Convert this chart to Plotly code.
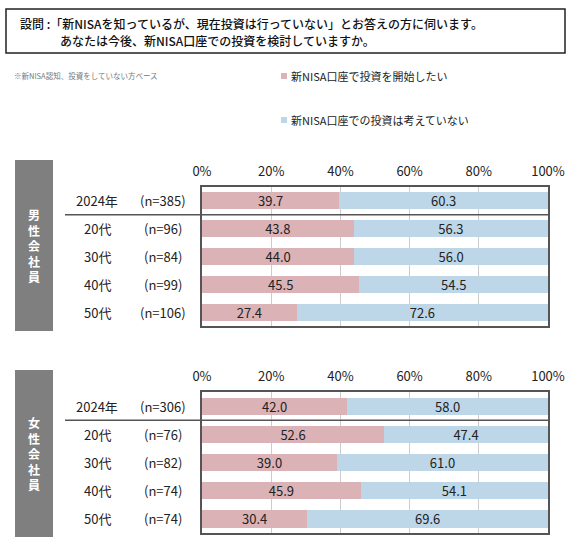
import plotly.graph_objects as go

W, H = 574, 542

groups = ["2024年", "20代", "30代", "40代", "50代"]
male_n = ["(n=385)", "(n=96)", "(n=84)", "(n=99)", "(n=106)"]
male_start = [39.7, 43.8, 44.0, 45.5, 27.4]
male_no = [60.3, 56.3, 56.0, 54.5, 72.6]
female_n = ["(n=306)", "(n=76)", "(n=82)", "(n=74)", "(n=74)"]
female_start = [42.0, 52.6, 39.0, 45.9, 30.4]
female_no = [58.0, 47.4, 61.0, 54.1, 69.6]

series_names = ["新NISA口座で投資を開始したい", "新NISA口座での投資は考えていない"]
section_names = ["男性会社員", "女性会社員"]
tick_values = [0, 20, 40, 60, 80, 100]
tick_labels = ["0%", "20%", "40%", "60%", "80%", "100%"]

PINK = "#dbb3b6"
BLUE = "#bdd7e9"
FRAME = "#555555"
FONT = "Noto Sans CJK JP"


def px(x):
    return x / W


def py(y):
    return 1 - y / H


fig = go.Figure()

sections = [
    (male_n, male_start, male_no, "x", "y"),
    (female_n, female_start, female_no, "x2", "y2"),
]
for n_labels, start, no, xa, ya in sections:
    for vals, name, color in [(start, series_names[0], PINK), (no, series_names[1], BLUE)]:
        fig.add_trace(go.Bar(
            y=groups, x=vals, name=name, orientation="h",
            marker=dict(color=color, line_width=0),
            texttemplate="%{x:.1f}", textposition="inside",
            insidetextanchor="middle", constraintext="none",
            textfont=dict(size=13, color="#222222", family=FONT),
            xaxis=xa, yaxis=ya, showlegend=False,
        ))

# plot areas in pixels: (top, bottom)
areas = [(187, 326), (392, 533)]
boxes = [(160, 331), (370, 537)]

axis_common = dict(
    range=[0, 100], side="top", tickmode="array",
    tickvals=tick_values, ticktext=tick_labels,
    showgrid=True, gridcolor="#cccccc", gridwidth=1,
    showline=True, mirror=True, linecolor=FRAME, linewidth=1.5,
    zeroline=False, ticks="", ticklabelstandoff=4, automargin=False,
    tickfont=dict(size=13, color="#222222", family=FONT),
)
yaxis_common = dict(
    autorange="reversed", showticklabels=False, showgrid=False,
    showline=True, mirror=True, linecolor=FRAME, linewidth=1.5,
    zeroline=False, ticks="", automargin=False,
)

layout = dict(
    width=W, height=H, autosize=False,
    margin=dict(l=0, r=0, t=0, b=0),
    paper_bgcolor="white", plot_bgcolor="white",
    barmode="stack", bargap=0.39,
    font=dict(family=FONT, color="#222222"),
    uniformtext=dict(minsize=13, mode="show"),
    showlegend=False,
)
for i, (top, bottom) in enumerate(areas):
    sfx = "" if i == 0 else str(i + 1)
    layout["xaxis" + sfx] = dict(axis_common, domain=[px(202), px(548)],
                                 anchor="y" + sfx)
    layout["yaxis" + sfx] = dict(yaxis_common, domain=[py(bottom), py(top)],
                                 anchor="x" + sfx)
fig.update_layout(**layout)

shapes = []
annotations = []

# question box
shapes.append(dict(type="rect", xref="paper", yref="paper",
                   x0=px(6), x1=px(565), y0=py(53), y1=py(9),
                   line=dict(color="#222222", width=1.5)))
annotations.append(dict(xref="paper", yref="paper", x=px(18), y=py(24),
                        xanchor="left", yanchor="middle", showarrow=False,
                        text="設問 :「新NISAを知っているが、現在投資は行っていない」とお答えの方に伺います。",
                        font=dict(size=12, color="#111111", weight=500)))
annotations.append(dict(xref="paper", yref="paper", x=px(58), y=py(40),
                        xanchor="left", yanchor="middle", showarrow=False,
                        text="あなたは今後、新NISA口座での投資を検討していますか。",
                        font=dict(size=12, color="#111111", weight=500)))

# note
annotations.append(dict(xref="paper", yref="paper", x=px(12), y=py(75),
                        xanchor="left", yanchor="middle", showarrow=False,
                        text="※新NISA認知、投資をしていない方ベース",
                        font=dict(size=7.5, color="#777777")))

# legend
for name, color, ly in [(series_names[0], PINK, 76), (series_names[1], BLUE, 120)]:
    shapes.append(dict(type="rect", xref="paper", yref="paper",
                       x0=px(281), x1=px(287), y0=py(ly + 3), y1=py(ly - 3),
                       fillcolor=color, line_width=0))
    annotations.append(dict(xref="paper", yref="paper", x=px(289), y=py(ly),
                            xanchor="left", yanchor="middle", showarrow=False,
                            text=name, font=dict(size=11, color="#222222")))

for i, (n_labels, ya) in enumerate([(male_n, "y"), (female_n, "y2")]):
    b_top, b_bot = boxes[i]
    shapes.append(dict(type="rect", xref="paper", yref="paper",
                       x0=px(15), x1=px(53), y0=py(b_bot), y1=py(b_top),
                       fillcolor="#7f7f7f", line_width=0, layer="below"))
    annotations.append(dict(xref="paper", yref="paper", x=px(34),
                            y=py((b_top + b_bot) / 2),
                            xanchor="center", yanchor="middle", showarrow=False,
                            text="<br>".join(section_names[i]),
                            font=dict(size=12, color="white", weight="bold")))
    # separator under the 2024 row
    shapes.append(dict(type="line", xref="paper", yref=ya,
                       x0=px(65), x1=px(548), y0=0.5, y1=0.5,
                       line=dict(color=FRAME, width=1.5)))
    for g, n in zip(groups, n_labels):
        annotations.append(dict(xref="paper", yref=ya, x=px(97), y=g,
                                xanchor="center", yanchor="middle", showarrow=False,
                                text=g, font=dict(size=13, color="#222222")))
        annotations.append(dict(xref="paper", yref=ya, x=px(163), y=g,
                                xanchor="center", yanchor="middle", showarrow=False,
                                text=n, font=dict(size=13, color="#222222")))

fig.update_layout(shapes=shapes, annotations=annotations)

# the page's default body margin and scrollbars would push the 574px figure
# past the window, so drop them
page_fix = ("document.body.style.margin='0';"
            "document.body.style.overflow='hidden';"
            "document.documentElement.style.overflow='hidden';")
fig.write_html("out.html", post_script=page_fix,
               config={"displayModeBar": False})
